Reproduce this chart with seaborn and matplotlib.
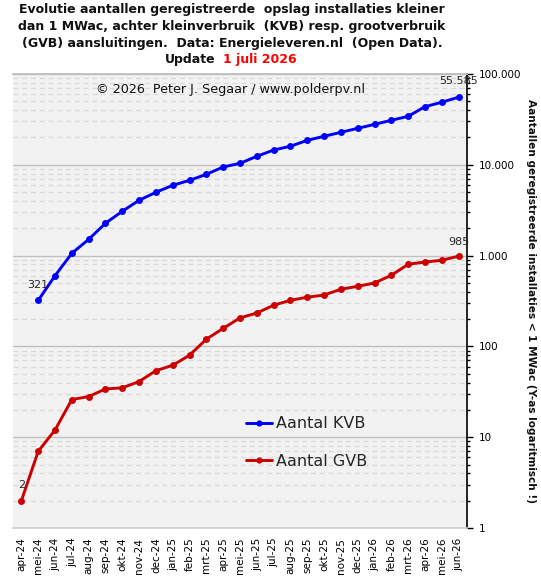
import numpy as np
import pandas as pd
import matplotlib
matplotlib.use("Agg")
import matplotlib.pyplot as plt
import matplotlib.ticker as mticker
import seaborn as sns

months = ["apr-24", "mei-24", "jun-24", "jul-24", "aug-24", "sep-24", "okt-24",
          "nov-24", "dec-24", "jan-25", "feb-25", "mrt-25", "apr-25", "mei-25",
          "jun-25", "jul-25", "aug-25", "sep-25", "okt-25", "nov-25", "dec-25",
          "jan-26", "feb-26", "mrt-26", "apr-26", "mei-26", "jun-26"]
kvb = [np.nan, 321, 601, 1060, 1511, 2270, 3077, 4066, 4980, 5945, 6745, 7855,
       9460, 10380, 12400, 14550, 16000, 18600, 20600, 22800, 25200, 27900,
       30900, 34200, 43700, 48800, 55585]
gvb = [2, 7, 12, 26, 28, 34, 35, 41, 54, 62, 80, 120, 158, 206, 233, 284, 322,
       348, 368, 426, 459, 499, 607, 802, 850, 888, 985]
series_names = ["Aantal KVB", "Aantal GVB"]
series_colors = ["#0000ff", "#cc0000"]
y_ticks = [1, 10, 100, 1000, 10000, 100000]

sns.set_theme(style="white")
plt.rcParams["font.family"] = ["DejaVu Sans"]

W, H = 541, 581
fig = plt.figure(figsize=(W / 100, H / 100), dpi=100)
fig.patch.set_facecolor("white")
L, R, T, B = 13, 467, 74, 528
ax = fig.add_axes([L / W, 1 - B / H, (R - L) / W, (B - T) / H])
ax.set_facecolor("#f2f2f2")

x = np.arange(len(months))
df = pd.DataFrame({"x": np.concatenate([x, x]),
                   "val": np.concatenate([kvb, gvb]),
                   "serie": [series_names[0]] * len(x) + [series_names[1]] * len(x)})
df = df.dropna()

sns.lineplot(data=df, x="x", y="val", hue="serie", palette=series_colors,
             marker="o", markersize=5.0, markeredgewidth=0, linewidth=2.1,
             ax=ax, legend=True, sort=False)

ax.set_yscale("log")
ax.set_ylim(1, 100000)
ax.set_xlim(-0.5, len(months) - 0.5)

# gridlines
ax.yaxis.set_minor_locator(mticker.LogLocator(base=10, subs=np.arange(2, 10)))
ax.grid(which="major", axis="y", color="#c0c0c0", linewidth=1.0, linestyle="-")
ax.grid(which="minor", axis="y", color="#d9d9d9", linewidth=0.9, linestyle=(0, (4, 3)))
ax.set_axisbelow(True)

# y axis on the right
ax.yaxis.tick_right()
ax.set_yticks(y_ticks)
ax.yaxis.set_major_formatter(mticker.FuncFormatter(lambda v, p: f"{int(round(v)):,}".replace(",", ".")))
ax.yaxis.set_minor_formatter(mticker.NullFormatter())
ax.tick_params(axis="y", which="major", length=4.5, width=1, color="black",
               labelsize=7.5, pad=4, right=True, left=False, labelcolor="#000000")
ax.tick_params(axis="y", which="minor", length=2.5, width=1, color="black",
               right=True, left=False)

ax.set_xticks(x)
ax.set_xticklabels(months, rotation=90, fontsize=7.5)
ax.tick_params(axis="x", length=0, pad=7, labelcolor="#000000")
ax.set_xlabel("")
ax.set_ylabel("")

ax.spines["left"].set_visible(False)
ax.spines["top"].set_color("#bdbdbd")
ax.spines["bottom"].set_color("#d0d0d0")
ax.spines["right"].set_color("black")
ax.spines["right"].set_linewidth(1.2)

# annotations
first_kvb = 1
ax.annotate(f"{kvb[first_kvb]:,}".replace(",", "."), (x[first_kvb], kvb[first_kvb]),
            xytext=(0, 11), textcoords="offset points", ha="center", va="center", fontsize=8)
ax.annotate(f"{kvb[-1]:,}".replace(",", "."), (x[-1], kvb[-1]),
            xytext=(0, 11.5), textcoords="offset points", ha="center", va="center", fontsize=8)
ax.annotate(f"{gvb[0]}", (x[0], gvb[0]),
            xytext=(0, 11), textcoords="offset points", ha="center", va="center", fontsize=8)
ax.annotate(f"{gvb[-1]}", (x[-1], gvb[-1]),
            xytext=(0, 10.5), textcoords="offset points", ha="center", va="center", fontsize=8)

# legend
leg = ax.legend(loc="center left", bbox_to_anchor=(246 / W, 1 - 442.5 / H),
                bbox_transform=fig.transFigure, frameon=False, fontsize=11.5,
                handlelength=1.65, handletextpad=0.2, labelspacing=1.4,
                borderpad=0, borderaxespad=0)
for h in leg.legend_handles:
    h.set_linewidth(2.1)
    h.set_markersize(4.5)

# copyright
fig.text(231 / W, 1 - 90 / H, "\u00a9 2026  Peter J. Segaar / www.polderpv.nl",
         ha="center", va="center", fontsize=9.2, color="#111111")

# title
title_lines = ["Evolutie aantallen geregistreerde  opslag installaties kleiner",
               "dan 1 MWac, achter kleinverbruik  (KVB) resp. grootverbruik",
               "(GVB) aansluitingen.  Data: Energieleveren.nl  (Open Data)."]
for i, line in enumerate(title_lines):
    fig.text(232 / W, 1 - (10 + i * 16.5) / H, line, ha="center", va="center",
             fontsize=9.0, fontweight="bold", color="#111111")
fig.text(216 / W, 1 - 59 / H, "Update", ha="right", va="center",
         fontsize=9.0, fontweight="bold", color="#111111")
fig.text(223 / W, 1 - 59 / H, "1 juli 2026", ha="left", va="center",
         fontsize=9.0, fontweight="bold", color="#ff0000")

# right axis label
fig.text(531 / W, 1 - 301 / H,
         "Aantallen geregistreerde installaties < 1 MWac (Y-as logaritmisch !)",
         rotation=270, ha="center", va="center", fontsize=7.6, fontweight="bold",
         color="#111111")

fig.savefig("out.png", dpi=100, facecolor="white")
